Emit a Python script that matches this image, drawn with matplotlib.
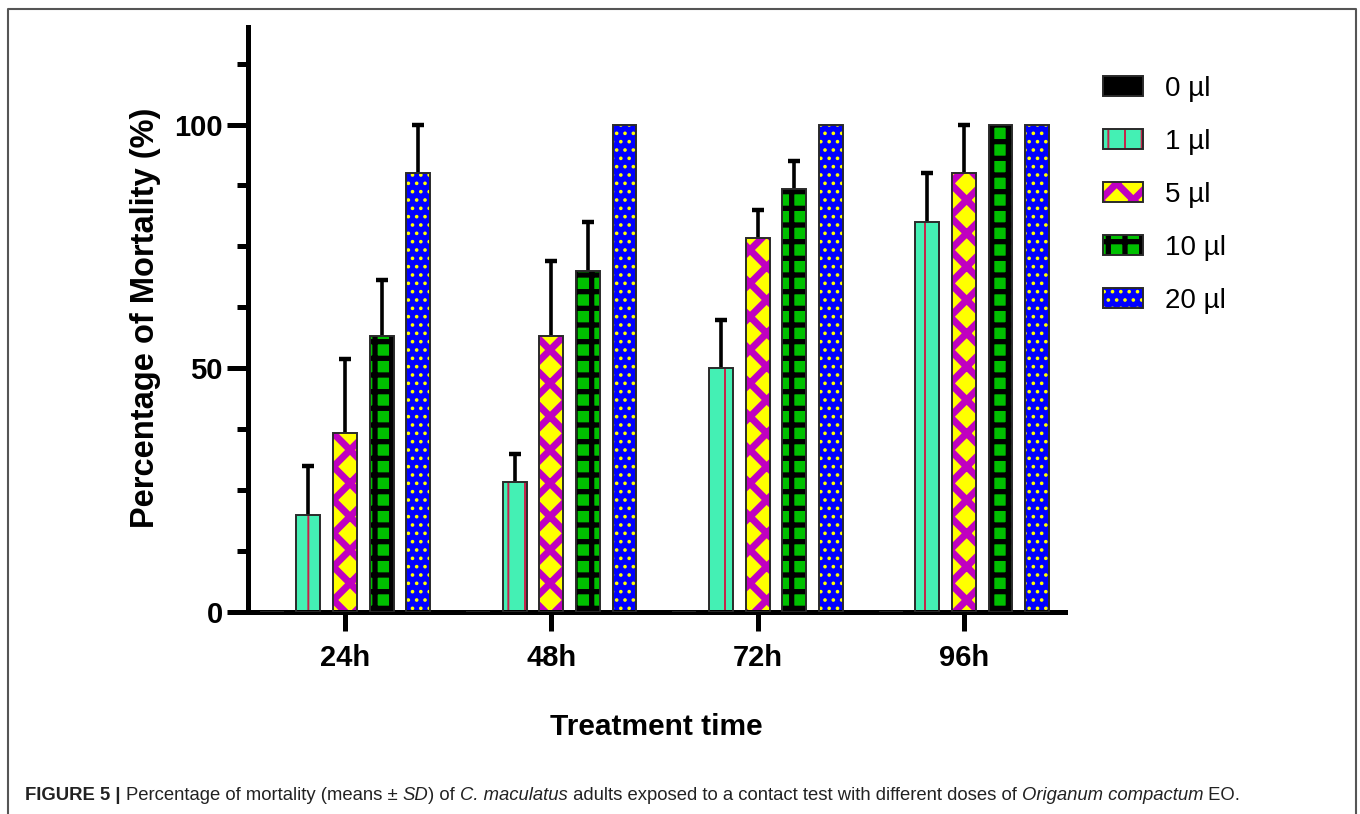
import numpy as np
import matplotlib
matplotlib.use("Agg")
import matplotlib.pyplot as plt
from matplotlib.lines import Line2D
from matplotlib.patches import Rectangle
from matplotlib.legend_handler import HandlerTuple


times = ['24h', '48h', '72h', '96h']
doses = ['0 µl', '1 µl', '5 µl', '10 µl', '20 µl']

# mean mortality (%) per dose, one value per treatment time
mean_0 = [0, 0, 0, 0]
mean_1 = [20.0, 26.7, 50.0, 80.0]
mean_5 = [36.7, 56.7, 76.7, 90.0]
mean_10 = [56.7, 70.0, 86.7, 100.0]
mean_20 = [90.0, 100.0, 100.0, 100.0]

# standard deviations (nan = no error bar drawn)
sd_0 = [np.nan, np.nan, np.nan, np.nan]
sd_1 = [10.0, 5.8, 10.0, 10.0]
sd_5 = [15.3, 15.3, 5.8, 10.0]
sd_10 = [11.5, 10.0, 5.8, np.nan]
sd_20 = [10.0, np.nan, np.nan, np.nan]

means = [mean_0, mean_1, mean_5, mean_10, mean_20]
sds = [sd_0, sd_1, sd_5, sd_10, sd_20]

# face colour, hatch, hatch colour, hatch linewidth
styles = [
    ('#000000', None, '#000000', 1.0),
    ('#44F0B4', '|', '#C8204A', 1.4),
    ('#FFFF00', 'x', '#C000C0', 5.0),
    ('#00C000', '+', '#000000', 3.8),
    ('#0000FF', '..', '#FFFF00', 1.4),
]
hatch_lw = {st[1]: st[3] for st in styles if st[1]}

plt.rcParams['font.family'] = ['Liberation Sans', 'DejaVu Sans']

fig = plt.figure(figsize=(13.6, 8.14), dpi=100)
ax = fig.add_axes([248 / 1360, 1 - 612 / 814, 817 / 1360, 585 / 814])

x = np.arange(len(times))
step = 0.1775
width = 0.116

handles = []
for j, (m, sd, st) in enumerate(zip(means, sds, styles)):
    face, hatch, hcol, hlw = st
    pos = x + (j - 2) * step
    with plt.rc_context({'hatch.linewidth': hlw}):
        fill = ax.bar(pos, m, width, color=face, hatch=hatch,
                      edgecolor=hcol, linewidth=0, zorder=2)
    for p in fill:
        if hasattr(p, 'set_hatch_linewidth'):
            p.set_hatch_linewidth(hlw)
    outline = ax.bar(pos, m, width, facecolor='none', edgecolor='#2a2a2a',
                     linewidth=1.4, zorder=3)
    handles.append((fill[0], outline[0]))

    sd = np.array(sd, dtype=float)
    if np.all(np.isnan(sd)):
        continue
    err = ax.errorbar(pos, m, yerr=[np.zeros_like(sd), sd], fmt='none',
                      ecolor='black', elinewidth=2.6, capsize=4.5,
                      capthick=3.2, zorder=1)
    err[1][0].set_visible(False)

ax.set_xlim(-0.470, 3.490)
ax.set_ylim(0, 120)

for side in ['top', 'right']:
    ax.spines[side].set_visible(False)
for side in ['left', 'bottom']:
    ax.spines[side].set_linewidth(3.6)

ax.set_yticks([0, 50, 100])
ax.yaxis.set_minor_locator(matplotlib.ticker.FixedLocator(
    [v for v in np.arange(12.5, 120, 12.5) if v not in (50, 100)]))
ax.set_xticks(x)
ax.set_xticklabels(times)

ax.tick_params(axis='y', which='major', length=15, width=3.6, pad=3,
               labelsize=21)
ax.tick_params(axis='y', which='minor', length=8, width=3.6)
ax.tick_params(axis='x', which='major', length=14, width=3.6, pad=9,
               labelsize=21)
for lab in ax.get_xticklabels() + ax.get_yticklabels():
    lab.set_fontweight('bold')

ax.set_ylabel('Percentage of Mortality (%)', fontsize=23.5, fontweight='bold')
ax.yaxis.set_label_coords(-0.106, 0.503)
ax.set_xlabel('Treatment time', fontsize=21.5, fontweight='bold')
ax.xaxis.set_label_coords(0.5, -0.173)

leg = ax.legend(handles, doses, handler_map={tuple: HandlerTuple(ndivide=1)},
                loc='upper left', bbox_to_anchor=(1103 / 1360, 1 - 76 / 814),
                bbox_transform=fig.transFigure, frameon=False, fontsize=20,
                handlelength=1.44, handleheight=0.72, handletextpad=0.8,
                labelspacing=0.97, borderpad=0, borderaxespad=0)
# legend copies do not keep the hatch width, so set it again
for p in leg.findobj(Rectangle):
    h = p.get_hatch()
    if h in hatch_lw and hasattr(p, 'set_hatch_linewidth'):
        p.set_hatch_linewidth(hatch_lw[h])

# frame around the figure panel
fig.add_artist(Line2D([8 / 1360, 8 / 1360, 1356 / 1360, 1356 / 1360],
                      [0, 1 - 9 / 814, 1 - 9 / 814, 0],
                      transform=fig.transFigure, color='#555555',
                      linewidth=1.5))

# caption built from pieces with different styles
pieces = [
    ('FIGURE 5 | ', 'bold', 'normal'),
    ('Percentage of mortality (means ± ', 'normal', 'normal'),
    ('SD', 'normal', 'italic'),
    (') of ', 'normal', 'normal'),
    ('C. maculatus', 'normal', 'italic'),
    (' adults exposed to a contact test with different doses of ',
     'normal', 'normal'),
    ('Origanum compactum', 'normal', 'italic'),
    (' EO.', 'normal', 'normal'),
]
renderer = fig.canvas.get_renderer()
xpos = 25
for txt, weight, style in pieces:
    t = fig.text(xpos / 1360, 1 - 795 / 814, txt, fontsize=13.3,
                 fontweight=weight, fontstyle=style, va='center',
                 ha='left', color='#222222')
    bb = t.get_window_extent(renderer)
    xpos += bb.width

fig.savefig('out.png', dpi=100)
